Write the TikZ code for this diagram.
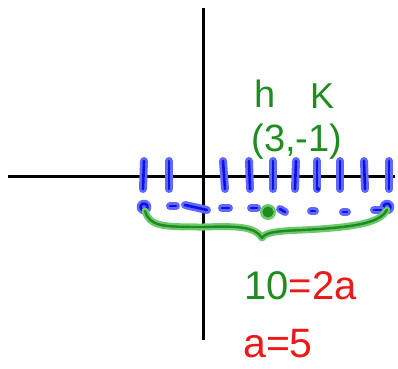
\documentclass[tikz,border=0pt]{standalone}
\usepackage{fontspec}
\setmainfont{Liberation Sans}
\definecolor{bluecore}{RGB}{15,15,230}
\definecolor{bluehalo}{RGB}{95,105,255}
\definecolor{greencore}{RGB}{30,140,30}
\definecolor{greenhalo}{RGB}{110,200,110}
\definecolor{redcore}{RGB}{235,25,25}
\definecolor{redhalo}{RGB}{255,120,120}
\tikzset{
  axisline/.style={draw=black, line width=3pt},
  bluestroke/.style={preaction={draw=bluehalo, line width=8pt, line cap=round, line join=round},
                     draw=bluecore, line width=2.6pt, line cap=round, line join=round},
  greenstroke/.style={preaction={draw=greenhalo, line width=7pt, line cap=round, line join=round},
                      draw=greencore, line width=2.4pt, line cap=round, line join=round},
  hand/.style={inner sep=0pt, font=\fontsize{#1}{#1}\selectfont},
}
\begin{document}
\begin{tikzpicture}[x=1pt, y=-1pt]
\useasboundingbox (0,0) rectangle (398,368);
% axes
\draw[axisline] (203,8) -- (203,340);
\draw[axisline] (8,176) -- (395,176);
% blue ticks
\foreach \xx/\tilt in {143/1,169/0,225/-2,250/-1,273/0,295/1,317/0,340/0,365/-1,389/0}
  \draw[bluestroke] (\xx+\tilt,161) -- (\xx,189);
\fill[bluecore] (318,189) circle (2);
% dashed blue line with end circles
\draw[bluestroke] (144,207) circle (3.5);
\draw[bluestroke] (387,207) circle (3.5);
\draw[bluestroke] (170,206) -- (176,206);
\draw[bluestroke] (185,205) -- (207,210);
\draw[bluestroke] (222,208) -- (229,208);
\draw[bluestroke] (251,208) -- (257,208);
\draw[bluestroke] (280,209) -- (285,212);
\draw[bluestroke] (311,211) -- (315,211);
\draw[bluestroke] (343,212) -- (347,212);
\draw[bluestroke] (374,210) -- (381,210);
% green centre point
\fill[greenhalo] (268,212) circle (8);
\fill[greencore] (268,212) circle (5.5);
% green brace
\draw[greenstroke] (145,211) .. controls (150,226) and (160,227) .. (203,227)
  .. controls (235,226) and (255,226) .. (262,238)
  .. controls (266,230) and (290,231) .. (320,229)
  .. controls (360,226) and (380,222) .. (387,210);
% labels
\node[hand=38, anchor=base, text=greencore] (h) at (265,107) {h};
\node[hand=36, anchor=base, text=greencore] (k) at (322,108) {K};
\node[hand=38, anchor=base, text=greencore] (vertex) at (297,151) {(3,-1)};
\node[hand=40, anchor=base west] (eq) at (244,299) {\textcolor{greencore}{10}\textcolor{redcore}{=2a}};
\node[hand=41, anchor=base west, text=redcore] (aval) at (243,357) {a=5};
\end{tikzpicture}
\end{document}
